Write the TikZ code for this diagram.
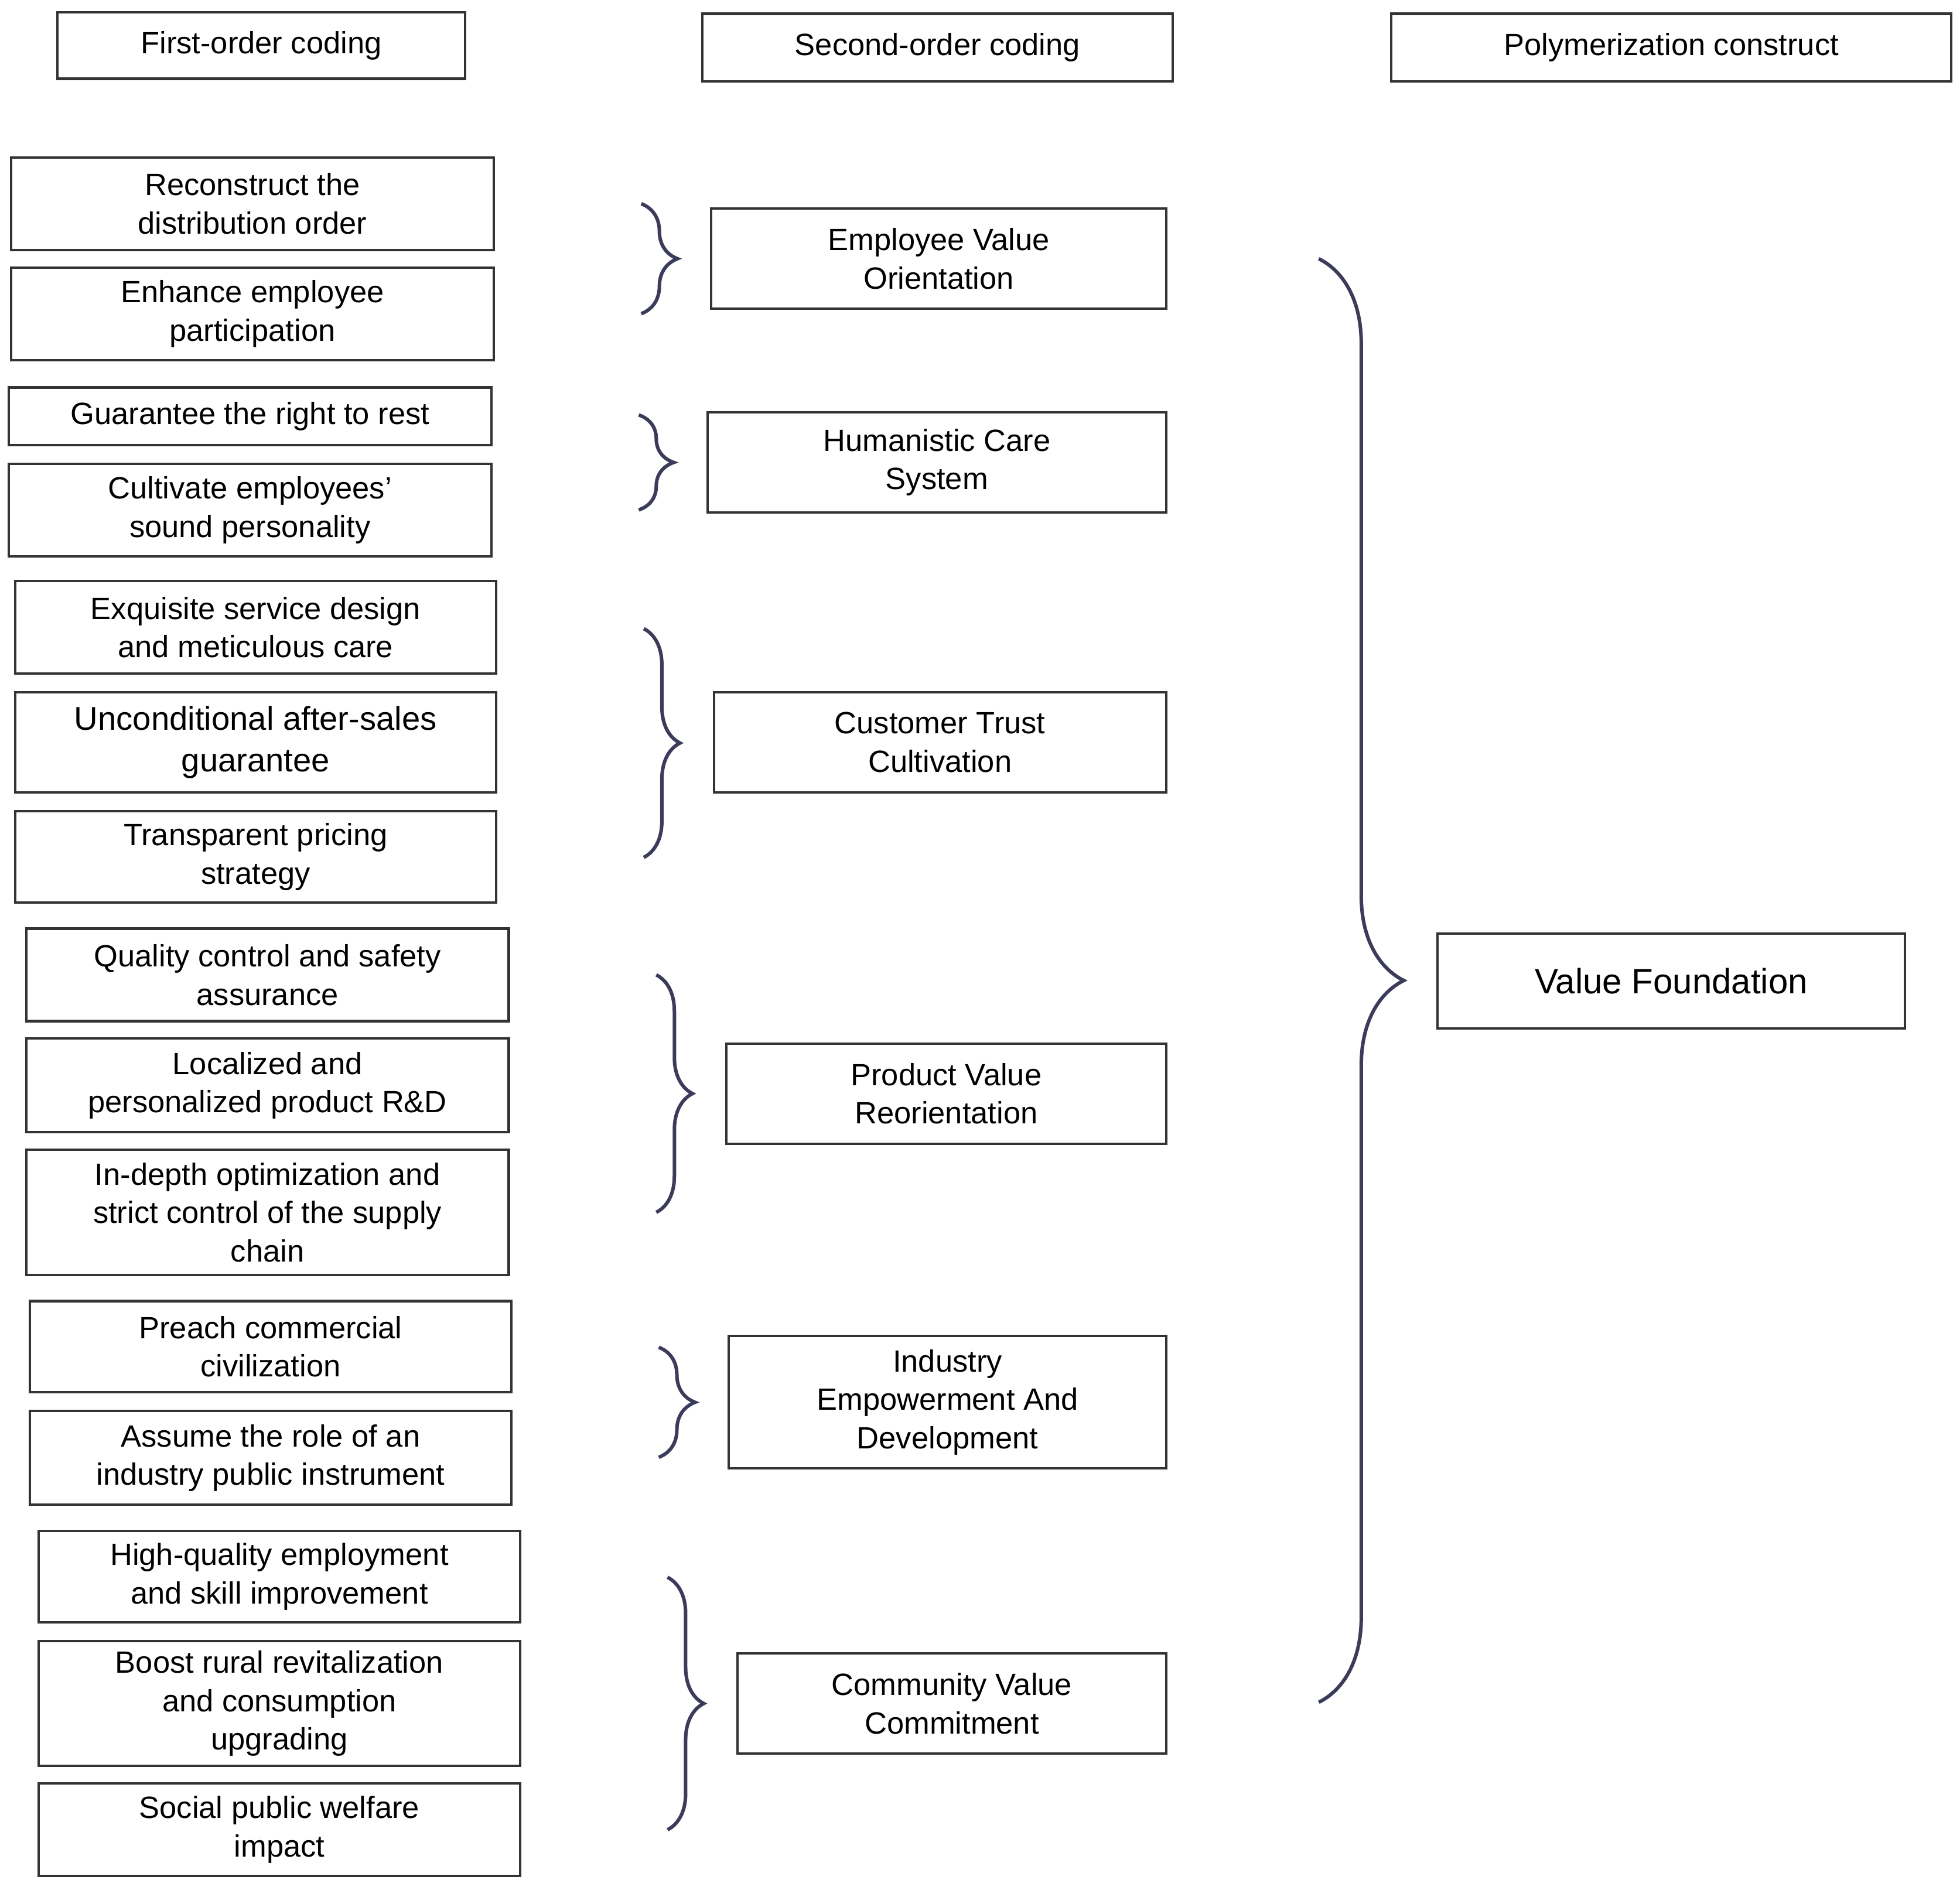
\documentclass[tikz,border=0pt]{standalone}
\usepackage{fontspec}
\setmainfont{Liberation Sans}
\usetikzlibrary{decorations.pathreplacing}
\definecolor{boxline}{HTML}{333333}
\definecolor{braceline}{HTML}{3B3B5C}
\tikzset{
  box/.style={draw=boxline, line width=1.1pt, align=center, inner sep=0pt,
    font=\fontsize{14}{17.5}\selectfont},
  brc/.style={draw=braceline, line width=1.6pt, decorate,
    decoration={brace, amplitude=#1}}
}
\begin{document}
\begin{tikzpicture}[x=0.02cm,y=-0.02cm]
\useasboundingbox (0,0) rectangle (1568,1512);
% headers
\node[box, minimum width=6.52cm, minimum height=1.06cm] (hfirst) at (209,36.5) {First-order coding};
\node[box, minimum width=7.52cm, minimum height=1.08cm] (hsecond) at (750,38) {Second-order coding};
\node[box, minimum width=8.96cm, minimum height=1.08cm] (hpoly) at (1337,38) {Polymerization construct};
% first-order codes
\node[box, minimum width=7.72cm, minimum height=1.48cm] (f1) at (202,163) {Reconstruct the\\distribution order};
\node[box, minimum width=7.72cm, minimum height=1.48cm] (f2) at (202,251) {Enhance employee\\participation};
\node[box, minimum width=7.72cm, minimum height=0.92cm] (f3) at (200,333) {Guarantee the right to rest};
\node[box, minimum width=7.72cm, minimum height=1.48cm] (f4) at (200,408) {Cultivate employees'\\sound personality};
\node[box, minimum width=7.7cm, minimum height=1.48cm] (f5) at (204.5,502) {Exquisite service design\\and meticulous care};
\node[box, minimum width=7.7cm, minimum height=1.6cm, font=\fontsize{15}{19}\selectfont] (f6) at (204.5,594) {Unconditional after-sales\\guarantee};
\node[box, minimum width=7.7cm, minimum height=1.46cm] (f7) at (204.5,685.5) {Transparent pricing\\strategy};
\node[box, minimum width=7.72cm, minimum height=1.48cm] (f8) at (214,780) {Quality control and safety\\assurance};
\node[box, minimum width=7.72cm, minimum height=1.5cm] (f9) at (214,868.5) {Localized and\\personalized product R\&D};
\node[box, minimum width=7.72cm, minimum height=2.0cm] (f10) at (214,970) {In-depth optimization and\\strict control of the supply\\chain};
\node[box, minimum width=7.7cm, minimum height=1.46cm] (f11) at (216.5,1077.5) {Preach commercial\\civilization};
\node[box, minimum width=7.7cm, minimum height=1.5cm] (f12) at (216.5,1166.5) {Assume the role of an\\industry public instrument};
\node[box, minimum width=7.7cm, minimum height=1.46cm] (f13) at (223.5,1261.5) {High-quality employment\\and skill improvement};
\node[box, minimum width=7.7cm, minimum height=2.0cm] (f14) at (223.5,1363) {Boost rural revitalization\\and consumption\\upgrading};
\node[box, minimum width=7.7cm, minimum height=1.48cm] (f15) at (223.5,1464) {Social public welfare\\impact};
% second-order codes
\node[box, minimum width=7.28cm, minimum height=1.6cm] (evo) at (751,207) {Employee Value\\Orientation};
\node[box, minimum width=7.34cm, minimum height=1.6cm] (hcs) at (749.5,370) {Humanistic Care\\System};
\node[box, minimum width=7.24cm, minimum height=1.6cm] (ctc) at (752,594) {Customer Trust\\Cultivation};
\node[box, minimum width=7.04cm, minimum height=1.6cm] (pvr) at (757,875) {Product Value\\Reorientation};
\node[box, minimum width=7.0cm, minimum height=2.12cm] (ied) at (758,1122) {Industry\\Empowerment And\\Development};
\node[box, minimum width=6.86cm, minimum height=1.6cm] (cvc) at (761.5,1363) {Community Value\\Commitment};
% construct
\node[box, minimum width=7.48cm, minimum height=1.52cm, font=\fontsize{16}{19}\selectfont] (vf) at (1337,785) {Value Foundation};
% braces
\draw[brc=0.58cm] (513,163) -- (513,251);
\draw[brc=0.56cm] (511,332) -- (511,408);
\draw[brc=0.58cm] (515,503) -- (515,686);
\draw[brc=0.58cm] (525,780) -- (525,970);
\draw[brc=0.58cm] (527,1078) -- (527,1166);
\draw[brc=0.58cm] (534,1262) -- (534,1464);
\draw[brc=1.36cm] (1055,207) -- (1055,1362);
\end{tikzpicture}
\end{document}
